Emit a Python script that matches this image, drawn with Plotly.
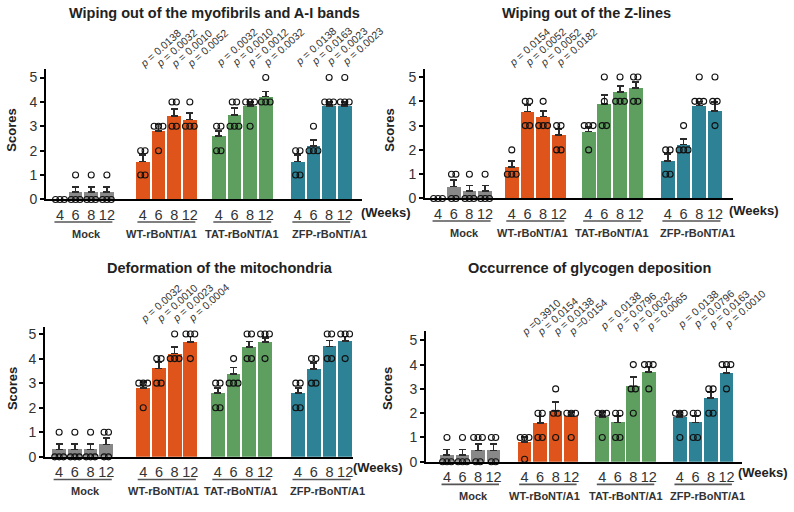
import plotly.graph_objects as go

W, H = 794, 512
FONT = "Arial, Liberation Sans, sans-serif"

weeks = ["4", "6", "8", "12"]
groups = ["Mock", "WT-rBoNT/A1", "TAT-rBoNT/A1", "ZFP-rBoNT/A1"]
colors = ["#888888", "#DE541B", "#5E9F60", "#2D8296"]

titles = [
    "Wiping out of the myofibrils and A-I bands",
    "Wiping out of the Z-lines",
    "Deformation of the mitochondria",
    "Occurrence of glycogen deposition",
]

# ---- Panel 1 ----
means1 = [0, 0.3, 0.3, 0.3, 1.55, 2.8, 3.42, 3.28, 2.6, 3.47, 3.83, 4.22, 1.55, 2.2, 3.83, 3.83]
errs1 = [0, 0.22, 0.22, 0.22, 0.28, 0.28, 0.28, 0.27, 0.2, 0.27, 0.17, 0.21, 0.28, 0.25, 0.17, 0.17]
dots1 = [[0, 0, 0], [1, 0, 0, 0], [1, 0, 0, 0], [1, 0, 0, 0],
         [2, 2, 1, 1], [3, 3, 3, 2], [4, 4, 3, 3], [4, 3, 3, 3],
         [3, 3, 2, 2], [4, 4, 3, 3, 3], [4, 4, 4, 3], [5, 4, 4, 4],
         [2, 2, 1, 1], [3, 2, 2, 2], [5, 4, 4, 4], [5, 4, 4, 4]]
pvals1 = ["0.0138", "0.0032", "0.0010", "0.0052",
          "0.0032", "0.0010", "0.0012", "0.0032",
          "0.0138", "0.0163", "0.0023", "0.0023"]

# ---- Panel 2 ----
means2 = [0, 0.5, 0.3, 0.3, 1.3, 3.58, 3.38, 2.62, 2.75, 3.9, 4.38, 4.55, 1.55, 2.23, 3.83, 3.6]
errs2 = [0, 0.27, 0.23, 0.23, 0.25, 0.26, 0.22, 0.25, 0.2, 0.35, 0.24, 0.24, 0.28, 0.23, 0.17, 0.38]
dots2 = [[0, 0, 0], [1, 1, 0, 0], [1, 0, 0, 0], [1, 0, 0, 0],
         [2, 1, 1, 1], [4, 4, 3, 3], [4, 3, 3, 3], [3, 3, 2, 2],
         [3, 3, 3, 2], [5, 4, 3, 3], [5, 4, 4, 4], [5, 5, 4, 4],
         [2, 2, 1, 1], [3, 2, 2, 2], [5, 4, 4, 4], [5, 4, 4, 3]]
pvals2 = ["0.0154", "0.0052", "0.0052", "0.0182",
          "0.0016", "0.0141", "0.0023", "0.0004",
          "0.0138", "0.0354", "0.0023", "0.0043"]

# ---- Panel 3 ----
means3 = [0.3, 0.3, 0.3, 0.5, 2.8, 3.6, 4.2, 4.67, 2.6, 3.37, 4.47, 4.67, 2.6, 3.57, 4.5, 4.72]
errs3 = [0.23, 0.23, 0.23, 0.26, 0.24, 0.27, 0.27, 0.23, 0.21, 0.27, 0.23, 0.17, 0.21, 0.26, 0.23, 0.18]
dots3 = [[1, 0, 0, 0], [1, 0, 0, 0], [1, 0, 0, 0], [1, 1, 0, 0],
         [3, 3, 3, 2], [4, 4, 3, 3], [5, 4, 4, 4], [5, 5, 5, 4],
         [3, 3, 2, 2], [4, 3, 3, 3], [5, 5, 4, 4], [5, 5, 5, 4],
         [3, 3, 2, 2], [4, 4, 3, 3], [5, 5, 4, 4], [5, 5, 5, 4]]
pvals3 = ["0.0032", "0.0010", "0.0023", "0.0004",
          "0.0029", "0.0052", "0.0030", "0.0004",
          "0.0029", "0.0010", "0.0030", "0.0004"]

# ---- Panel 4 ----
means4 = [0.28, 0.28, 0.47, 0.47, 0.81, 1.6, 2.1, 1.86, 1.84, 1.62, 3.1, 3.69, 1.84, 1.62, 2.62, 3.66]
errs4 = [0.23, 0.23, 0.27, 0.27, 0.2, 0.26, 0.37, 0.18, 0.2, 0.26, 0.4, 0.23, 0.2, 0.26, 0.26, 0.23]
dots4 = [[1, 0, 0, 0], [1, 0, 0, 0], [1, 1, 1, 0, 0], [1, 1, 0, 0],
         [1, 1, 1, 0.1], [2, 2, 1, 1], [3, 2, 2, 1], [2, 2, 2, 1],
         [2, 2, 2, 1], [2, 2, 1, 1], [4, 3, 3, 2], [4, 4, 4, 3],
         [2, 2, 2, 1], [2, 2, 1, 1], [3, 3, 2, 2], [4, 4, 4, 3]]
pvals4 = ["=0.3910", "= 0.0154", "= 0.0138", "=0.0154",
          "= 0.0138", "= 0.0796", "= 0.0032", "= 0.0065",
          "= 0.0138", "= 0.0796", "= 0.0163", "= 0.0010"]

data = [(means1, errs1, dots1, ["= " + p for p in pvals1]),
        (means2, errs2, dots2, ["= " + p for p in pvals2]),
        (means3, errs3, dots3, ["= " + p for p in pvals3]),
        (means4, errs4, dots4, pvals4)]

# ---- layout geometry (pixels) ----
panels = [
    dict(px=(46, 362), py=(69, 202), ytop=5.36, offs=[0, 5.3, 10.15, 15.2], xr=[-0.89, 19.3],
         title=(214, 12), scores=(12, 132), weeks=(359, 215), plev=[5.2, 5.25, 5.3],
         lab=[0.2, -0.3, 0.0, 0.5]),
    dict(px=(425, 733), py=(69, 201), ytop=5.34, offs=[0, 4.7, 9.6, 14.65], xr=[-0.83, 18.8],
         title=(586, 12), scores=(390, 132), weeks=(727, 213), plev=[5.22, 5.4, 5.55],
         lab=[0.2, -0.2, 0.0, 0.4]),
    dict(px=(45, 353), py=(332, 464), ytop=5.28, offs=[0, 5.35, 10.1, 15.2], xr=[-0.9, 18.7],
         title=(220, 272), scores=(12, 395), weeks=(351, 475), plev=[5.28, 5.44, 5.72],
         lab=[0.2, -0.2, 0.0, 0.4]),
    dict(px=(426, 742), py=(336, 469), ytop=5.38, offs=[0, 5.0, 10.0, 15.0], xr=[-1.35, 19.0],
         title=(589, 272), scores=(387, 395), weeks=(736, 480), plev=[4.98, 5.2, 5.3],
         lab=[0.2, -0.2, 0.0, 0.3]),
]


def PX(x):
    return x / W


def PY(y):
    return 1 - y / H


fig = go.Figure()
annotations = []
shapes = []
BW = 0.88
DSP = 0.28

for i, (pan, (means, errs, dots, pv)) in enumerate(zip(panels, data)):
    n = "" if i == 0 else str(i + 1)
    xa, ya = "x" + n, "y" + n
    xpos = [pan["offs"][g] + k for g in range(4) for k in range(4)]
    cols = [colors[g] for g in range(4) for k in range(4)]
    fig.add_trace(go.Bar(
        x=xpos, y=means, width=BW, marker=dict(color=cols, line=dict(width=0)),
        error_y=dict(type="data", array=errs, arrayminus=[0] * 16, symmetric=False,
                     color="#2b2b2b", thickness=1.6, width=3.5),
        xaxis=xa, yaxis=ya, showlegend=False, hoverinfo="skip"))
    # dots
    dx, dy = [], []
    for xc, vals in zip(xpos, dots):
        uniq = []
        for v in vals:
            if v not in uniq:
                uniq.append(v)
        for v in uniq:
            k = vals.count(v)
            for j in range(k):
                dx.append(xc + (j - (k - 1) / 2) * DSP)
                dy.append(v)
    fig.add_trace(go.Scatter(
        x=dx, y=dy, mode="markers", cliponaxis=False,
        marker=dict(symbol="circle-open", size=6, color="#111111", line=dict(width=1.1)),
        xaxis=xa, yaxis=ya, showlegend=False, hoverinfo="skip"))

    axx = dict(domain=[PX(pan["px"][0]), PX(pan["px"][1])], range=pan["xr"], anchor=ya,
               tickmode="array", tickvals=xpos, ticktext=weeks * 4,
               showline=True, linecolor="black", linewidth=2, ticks="outside", ticklen=1,
               tickcolor="rgba(0,0,0,0)", showgrid=False, zeroline=False,
               tickfont=dict(size=14.5, color="#333333", family=FONT))
    axy = dict(domain=[PY(pan["py"][1]), PY(pan["py"][0])], range=[0, pan["ytop"]], anchor=xa,
               tickvals=[0, 1, 2, 3, 4, 5], showline=True, linecolor="black", linewidth=2,
               ticks="outside", ticklen=4, tickwidth=1.5, tickcolor="black",
               showgrid=False, zeroline=False,
               tickfont=dict(size=14, color="#333333", family=FONT))
    fig.layout["xaxis" + n] = axx
    fig.layout["yaxis" + n] = axy

    y0 = pan["py"][1]
    # group underlines and labels
    for g in range(4):
        x1 = pan["offs"][g] - 0.35
        x2 = pan["offs"][g] + 3 + 0.35
        shapes.append(dict(type="line", xref=xa, yref="paper", x0=x1, x1=x2,
                           y0=PY(y0 + 23), y1=PY(y0 + 23),
                           line=dict(color="#555555", width=1.6)))
        annotations.append(dict(xref=xa, yref="paper", x=pan["offs"][g] + 1.5 + pan["lab"][g],
                                y=PY(y0 + 35),
                                text="<b>" + groups[g] + "</b>", showarrow=False,
                                xanchor="center", yanchor="middle",
                                font=dict(size=11, color="#333333", family=FONT)))
    # p-values
    for j in range(12):
        g = 1 + j // 4
        xc = pan["offs"][g] + j % 4
        annotations.append(dict(xref=xa, yref=ya, x=xc, y=pan["plev"][g - 1],
                                text="<i>p</i> " + pv[j], showarrow=False, textangle=-42,
                                xanchor="left", yanchor="bottom", xshift=-8,
                                font=dict(size=10.5, color="#333333", family=FONT)))
    # title
    annotations.append(dict(xref="paper", yref="paper", x=PX(pan["title"][0]), y=PY(pan["title"][1]),
                            text="<b>" + titles[i] + "</b>", showarrow=False,
                            xanchor="center", yanchor="middle",
                            font=dict(size=14.5, color="#222222", family=FONT)))
    # Scores
    annotations.append(dict(xref="paper", yref="paper", x=PX(pan["scores"][0]), y=PY(pan["scores"][1]),
                            text="<b>Scores</b>", showarrow=False, textangle=-90,
                            xanchor="center", yanchor="middle",
                            font=dict(size=13, color="#222222", family=FONT)))
    # Weeks
    annotations.append(dict(xref="paper", yref="paper", x=PX(pan["weeks"][0]), y=PY(pan["weeks"][1]),
                            text="<b>(Weeks)</b>", showarrow=False,
                            xanchor="left", yanchor="middle",
                            font=dict(size=13, color="#222222", family=FONT)))

fig.update_layout(width=W, height=H, autosize=False, margin=dict(l=0, r=0, t=0, b=0),
                  plot_bgcolor="white", paper_bgcolor="white", bargap=0,
                  annotations=annotations, shapes=shapes,
                  font=dict(family=FONT))

fig.write_html("out.html")
